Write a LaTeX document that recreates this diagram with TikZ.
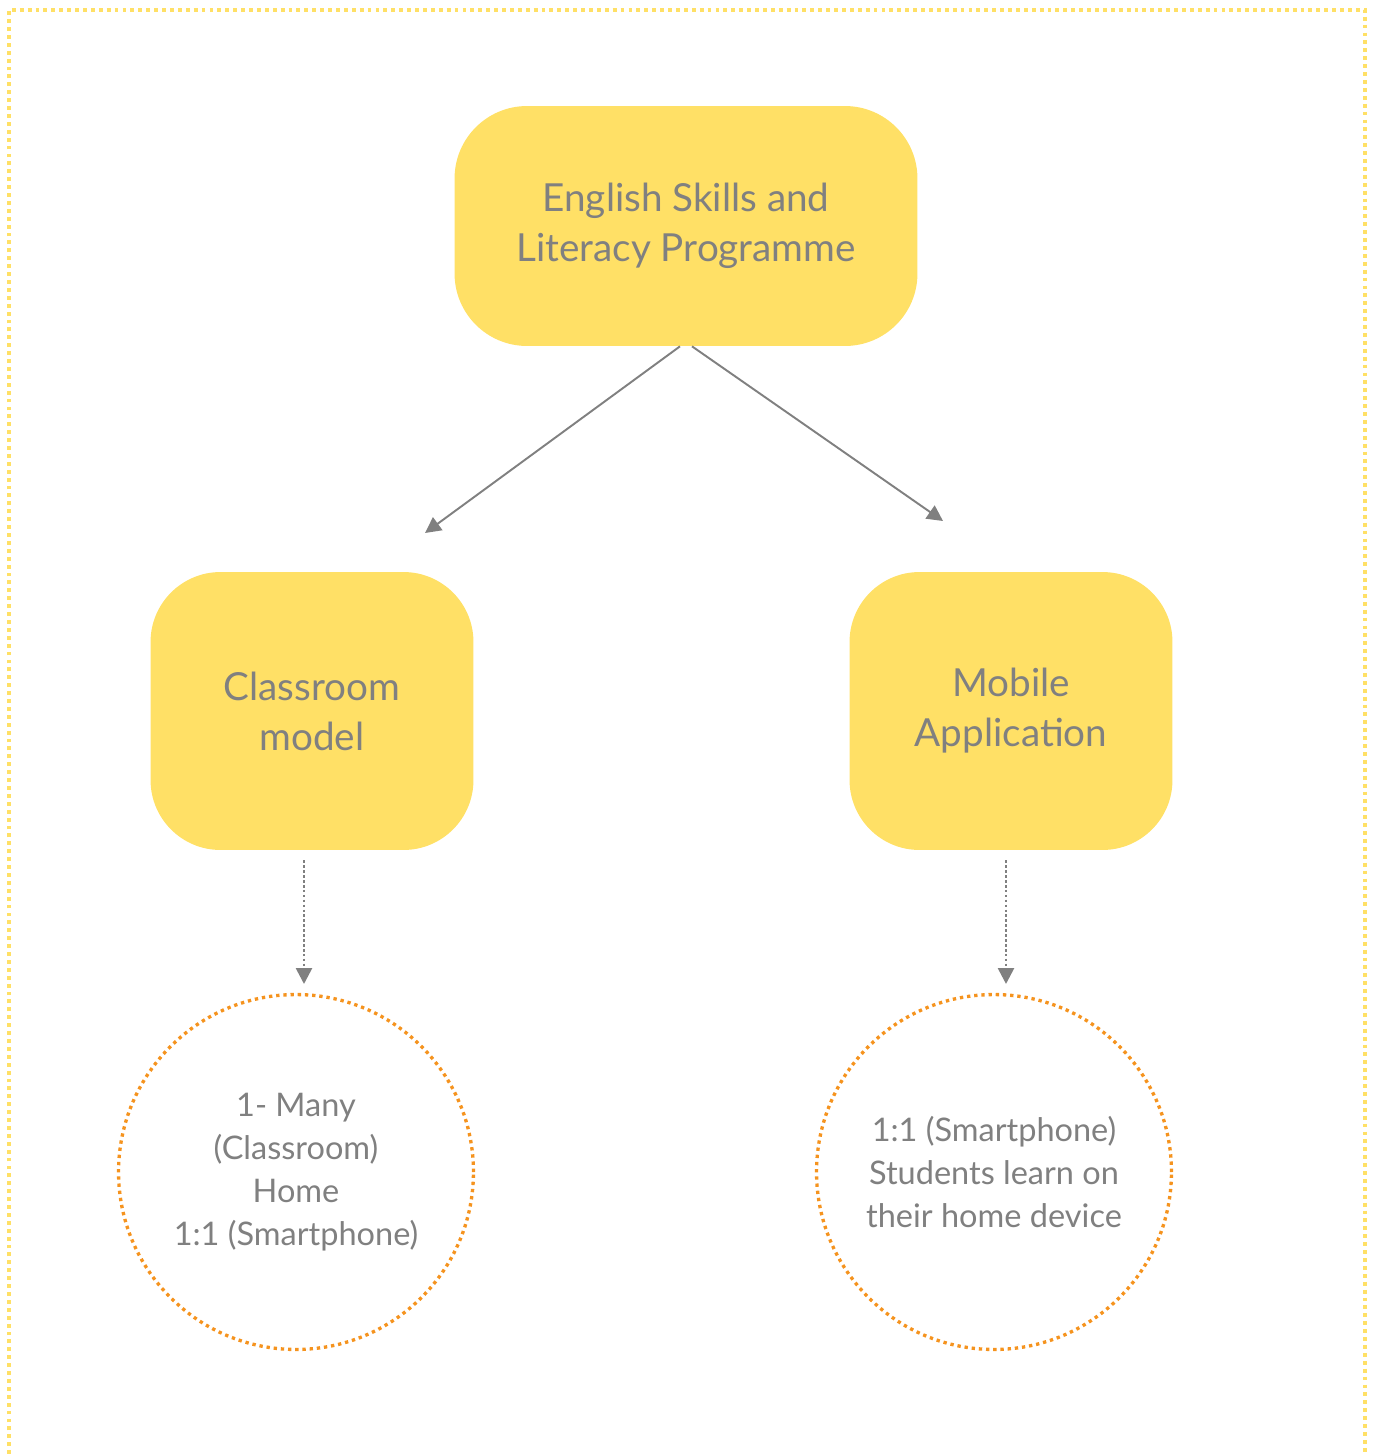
\documentclass[tikz,border=0pt]{standalone}
\usepackage{fontspec}
\setmainfont{Lato}
\usetikzlibrary{positioning,arrows.meta}
\definecolor{boxyellow}{RGB}{255,224,102}
\definecolor{dotorange}{RGB}{245,147,30}
\definecolor{txtgray}{RGB}{128,128,128}
\tikzset{
  bigbox/.style={fill=boxyellow,rounded corners=1.45cm,text=txtgray,align=center,
    font=\fontsize{22}{28.5}\selectfont},
  modebox/.style={bigbox,minimum width=6.46cm,minimum height=5.56cm,rounded corners=1.4cm},
  ring/.style={circle,draw=dotorange,line width=1.9pt,dash pattern=on 1.9pt off 2.2pt,
    minimum size=7.1cm,text=txtgray,align=center,font=\fontsize{18.5}{24.5}\selectfont},
  link/.style={draw=txtgray,line width=1.1pt,-{Triangle[length=9pt,width=9pt]}},
  dotlink/.style={draw=txtgray,line width=1.5pt,dash pattern=on 1.5pt off 1.3pt,
    -{Triangle[length=9pt,width=9pt]}}
}
\begin{document}
\begin{tikzpicture}[x=0.02cm,y=-0.02cm]
  \useasboundingbox (0,0) rectangle (1375,1454);

  % outer frame
  \draw[boxyellow,line width=2.2pt,dash pattern=on 2.2pt off 2.3pt]
    (9,1454) -- (9,10) -- (1365,10) -- (1365,1454);

  \node[bigbox,minimum width=9.26cm,minimum height=4.8cm] (prog) at (686,226)
    {English Skills and\\Literacy Programme};
  \node[modebox] (class) at (312,711) {Classroom\\model};
  \node[modebox] (mobile) at (1011,711) {Mobile\\Application};

  \node[ring] (classring) at (296,1172) {1- Many\\(Classroom)\\Home\\1:1 (Smartphone)};
  \node[ring] (mobilering) at (994,1172) {1:1 (Smartphone)\\Students learn on\\their home device};

  \coordinate (lefttip) at (425,533);
  \coordinate (righttip) at (943,521);
  \coordinate (classtip) at (304,984);
  \coordinate (mobiletip) at (1006,984);

  \draw[link] ([xshift=-0.12cm]prog.south) -- (lefttip);
  \draw[link] ([xshift=0.12cm]prog.south) -- (righttip);
  \draw[dotlink] ([yshift=-0.2cm]class.south -| classtip) -- (classtip);
  \draw[dotlink] ([yshift=-0.2cm]mobile.south -| mobiletip) -- (mobiletip);
\end{tikzpicture}
\end{document}
